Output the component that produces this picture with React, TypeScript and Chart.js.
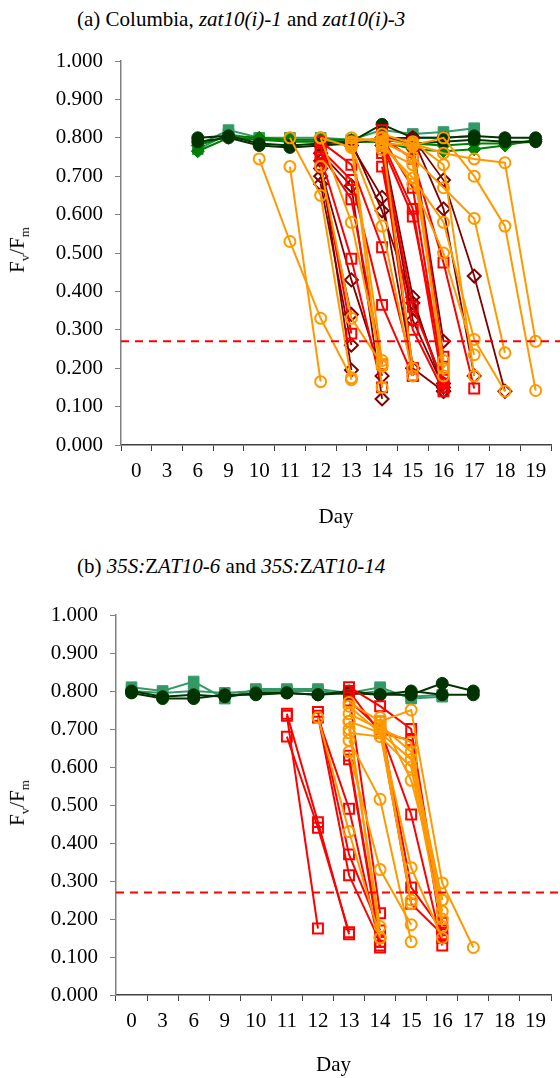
import React, { useEffect, useRef } from "react";
import { Chart, registerables } from "chart.js";

Chart.register(...registerables);

// ---------- data ----------
const days = ["0", "3", "6", "9", "10", "11", "12", "13", "14", "15", "16", "17", "18", "19"];
const threshold = 0.27;
const yMin = 0;
const yMax = 1;
const yStep = 0.1;

type Run = { start: string; v: number[] };

// Panel (a): Columbia, zat10(i)-1 and zat10(i)-3
const aGreenCircles: Run[] = [
  { start: "6", v: [0.8, 0.805, 0.785, 0.78, 0.785, 0.79, 0.835, 0.8, 0.8, 0.805, 0.8, 0.8] },
  { start: "6", v: [0.79, 0.8, 0.78, 0.775, 0.78, 0.785, 0.8, 0.785, 0.79, 0.795, 0.79, 0.79] },
];
const aGreenSquares: Run[] = [
  { start: "6", v: [0.78, 0.82, 0.8, 0.8, 0.8, 0.795, 0.82, 0.81, 0.815, 0.825] },
  { start: "6", v: [0.77, 0.81, 0.795, 0.795, 0.795, 0.79, 0.79, 0.8, 0.8, 0.805] },
];
const aGreenDiamonds: Run[] = [
  { start: "6", v: [0.765, 0.8, 0.795, 0.79, 0.79, 0.79, 0.79, 0.77, 0.765, 0.77, 0.78, 0.795] },
  { start: "6", v: [0.78, 0.805, 0.8, 0.795, 0.795, 0.795, 0.795, 0.785, 0.78, 0.785, 0.785, 0.79] },
];
const aOrange: Run[] = [
  { start: "10", v: [0.745, 0.53, 0.33, 0.175] },
  { start: "11", v: [0.725, 0.165] },
  { start: "11", v: [0.8, 0.65, 0.17] },
  { start: "12", v: [0.8, 0.58, 0.205] },
  { start: "12", v: [0.725, 0.33, 0.21] },
  { start: "12", v: [0.8, 0.775, 0.57, 0.18] },
  { start: "13", v: [0.79, 0.8, 0.2] },
  { start: "13", v: [0.8, 0.79, 0.75, 0.2] },
  { start: "13", v: [0.785, 0.22] },
  { start: "13", v: [0.78, 0.15] },
  { start: "14", v: [0.81, 0.785, 0.76, 0.745, 0.735, 0.27] },
  { start: "14", v: [0.8, 0.78, 0.8, 0.7, 0.57, 0.142] },
  { start: "14", v: [0.79, 0.75, 0.67, 0.59, 0.24] },
  { start: "14", v: [0.78, 0.695, 0.58, 0.275, 0.14] },
  { start: "14", v: [0.79, 0.68, 0.5, 0.235] },
  { start: "14", v: [0.77, 0.73, 0.22] },
  { start: "14", v: [0.785, 0.78, 0.18] },
  { start: "15", v: [0.79, 0.73, 0.18] },
];
const aRed: Run[] = [
  { start: "12", v: [0.79, 0.73, 0.515, 0.2] },
  { start: "12", v: [0.77, 0.69, 0.365, 0.18] },
  { start: "12", v: [0.76, 0.64, 0.21] },
  { start: "12", v: [0.75, 0.485, 0.15] },
  { start: "12", v: [0.73, 0.29] },
  { start: "14", v: [0.82, 0.18] },
  { start: "14", v: [0.725, 0.3, 0.14] },
  { start: "14", v: [0.8, 0.67, 0.17] },
  { start: "14", v: [0.79, 0.615, 0.15] },
  { start: "14", v: [0.78, 0.595, 0.2] },
  { start: "14", v: [0.8, 0.745, 0.475, 0.147] },
  { start: "14", v: [0.77, 0.36, 0.16] },
  { start: "15", v: [0.78, 0.23] },
  { start: "14", v: [0.76, 0.2] },
];
const aMaroon: Run[] = [
  { start: "12", v: [0.76, 0.675, 0.12] },
  { start: "12", v: [0.72, 0.43, 0.18] },
  { start: "12", v: [0.7, 0.34] },
  { start: "12", v: [0.68, 0.26] },
  { start: "12", v: [0.74, 0.195] },
  { start: "13", v: [0.78, 0.645, 0.2] },
  { start: "13", v: [0.79, 0.61, 0.37, 0.16] },
  { start: "14", v: [0.79, 0.385, 0.14] },
  { start: "14", v: [0.78, 0.325, 0.15] },
  { start: "14", v: [0.8, 0.8, 0.69, 0.44, 0.14] },
  { start: "15", v: [0.8, 0.615, 0.18] },
  { start: "15", v: [0.78, 0.27] },
  { start: "14", v: [0.79, 0.2, 0.14] },
];

// Panel (b): 35S:ZAT10-6 and 35S:ZAT10-14
const bGreenSquares: Run[] = [
  { start: "0", v: [0.81, 0.8, 0.825, 0.78, 0.805, 0.805, 0.805, 0.795, 0.81, 0.78, 0.785] },
  { start: "0", v: [0.8, 0.795, 0.8, 0.795, 0.8, 0.8, 0.8, 0.79, 0.8, 0.785, 0.79] },
];
const bGreenCircles: Run[] = [
  { start: "0", v: [0.8, 0.785, 0.79, 0.785, 0.795, 0.795, 0.79, 0.8, 0.79, 0.79, 0.82, 0.8] },
  { start: "0", v: [0.795, 0.78, 0.78, 0.79, 0.79, 0.795, 0.79, 0.795, 0.79, 0.8, 0.79, 0.79] },
];
const bRed: Run[] = [
  { start: "11", v: [0.735, 0.175] },
  { start: "11", v: [0.74, 0.455, 0.16] },
  { start: "11", v: [0.68, 0.44, 0.165] },
  { start: "12", v: [0.745, 0.37, 0.17] },
  { start: "12", v: [0.735, 0.315, 0.14] },
  { start: "12", v: [0.73, 0.49, 0.125] },
  { start: "13", v: [0.81, 0.76, 0.7, 0.19] },
  { start: "13", v: [0.8, 0.69, 0.67, 0.15] },
  { start: "13", v: [0.79, 0.215] },
  { start: "13", v: [0.63, 0.14] },
  { start: "13", v: [0.62, 0.13] },
  { start: "13", v: [0.775, 0.7, 0.475, 0.13] },
  { start: "14", v: [0.72, 0.283, 0.17] },
  { start: "14", v: [0.7, 0.24, 0.16] },
];
const bOrange: Run[] = [
  { start: "12", v: [0.73, 0.43, 0.15] },
  { start: "13", v: [0.77, 0.72, 0.75, 0.295, 0.125] },
  { start: "13", v: [0.74, 0.7, 0.665, 0.2] },
  { start: "13", v: [0.72, 0.69, 0.62, 0.22] },
  { start: "13", v: [0.69, 0.68, 0.6, 0.18] },
  { start: "13", v: [0.64, 0.33, 0.185] },
  { start: "13", v: [0.67, 0.515, 0.14] },
  { start: "14", v: [0.73, 0.565, 0.25] },
  { start: "14", v: [0.7, 0.335, 0.15] },
  { start: "13", v: [0.76, 0.69, 0.25] },
  { start: "13", v: [0.7, 0.18] },
  { start: "13", v: [0.72, 0.15] },
  { start: "14", v: [0.72, 0.24] },
  { start: "14", v: [0.71, 0.64, 0.25] },
];

// ---------- styles ----------
type Sty = { color: string; point: string; radius: number; filled: boolean; lw: number };
const ORANGE: Sty = { color: "#FF9900", point: "circle", radius: 5.5, filled: false, lw: 2 };
const RED: Sty = { color: "#FF0000", point: "rect", radius: 7, filled: false, lw: 2 };
const MAROON: Sty = { color: "#800000", point: "rectRot", radius: 6.5, filled: false, lw: 1.8 };
const GSQ: Sty = { color: "#339966", point: "rect", radius: 7.5, filled: true, lw: 2 };
const GDI: Sty = { color: "#008000", point: "rectRot", radius: 6.5, filled: true, lw: 2 };
const GCI: Sty = { color: "#003300", point: "circle", radius: 6, filled: true, lw: 2 };

const FONT = "'Liberation Serif', 'Times New Roman', serif";

function toSeries(run: Run): (number | null)[] {
  const out: (number | null)[] = days.map(() => null);
  const i0 = days.indexOf(run.start);
  run.v.forEach((val, k) => {
    out[i0 + k] = val;
  });
  return out;
}

function datasets(groups: [Run[], Sty][]) {
  const ds: any[] = [];
  groups.forEach(([runs, s]) => {
    runs.forEach((r) => {
      ds.push({
        data: toSeries(r),
        borderColor: s.color,
        borderWidth: s.lw,
        backgroundColor: s.filled ? s.color : "rgba(0,0,0,0)",
        pointStyle: s.point,
        pointRadius: s.radius,
        pointHoverRadius: s.radius,
        pointBorderWidth: s.filled ? 1 : 2,
        pointBorderColor: s.color,
        pointBackgroundColor: s.filled ? s.color : "rgba(0,0,0,0)",
        tension: 0,
        fill: false,
        spanGaps: false,
      });
    });
  });
  return ds;
}

const thresholdPlugin = {
  id: "threshold",
  afterDatasetsDraw(chart: any) {
    const ctx = chart.ctx;
    const y = chart.scales.y.getPixelForValue(threshold);
    const { left } = chart.chartArea;
    ctx.save();
    ctx.strokeStyle = "#FF0000";
    ctx.lineWidth = 2;
    ctx.setLineDash([8, 6]);
    ctx.beginPath();
    ctx.moveTo(left, y);
    ctx.lineTo(chart.width, y);
    ctx.stroke();
    ctx.restore();
  },
};

function makeConfig(groups: [Run[], Sty][], yW: number, xH: number, padRight: number) {
  return {
    type: "line",
    data: { labels: days, datasets: datasets(groups) },
    options: {
      animation: false,
      responsive: false,
      devicePixelRatio: 1,
      layout: { padding: { top: 61, left: 0, right: padRight, bottom: 0 } },
      plugins: { legend: { display: false }, tooltip: { enabled: false }, title: { display: false } },
      scales: {
        x: {
          type: "category",
          offset: true,
          grid: {
            display: true,
            drawOnChartArea: false,
            drawTicks: true,
            tickLength: 6,
            offset: true,
            color: "#404040",
            lineWidth: 1,
          },
          border: { display: true, color: "#404040", width: 1.5 },
          ticks: {
            color: "#000",
            font: { family: FONT, size: 21 },
            padding: 8,
            autoSkip: false,
            maxRotation: 0,
          },
          title: { display: true, text: "Day", color: "#000", font: { family: FONT, size: 21 }, padding: 0 },
          afterFit: (s: any) => {
            s.height = xH;
          },
        },
        y: {
          min: yMin,
          max: yMax,
          ticks: {
            stepSize: yStep,
            color: "#000",
            font: { family: FONT, size: 21 },
            padding: 12,
            callback: (v: any) => Number(v).toFixed(3),
          },
          grid: { drawOnChartArea: false, drawTicks: true, tickLength: 6, color: "#808080", lineWidth: 1 },
          border: { display: true, color: "#808080", width: 1.5 },
          afterFit: (s: any) => {
            s.width = yW;
          },
        },
      },
    },
    plugins: [thresholdPlugin],
  };
}

function Panel({ groups, top, height, yW, xH, padRight }: any) {
  const ref = useRef<HTMLCanvasElement>(null);
  useEffect(() => {
    const chart = new Chart(ref.current as HTMLCanvasElement, makeConfig(groups, yW, xH, padRight) as any);
    return () => chart.destroy();
  }, []);
  return (
    <canvas
      ref={ref}
      width={560}
      height={height}
      style={{ position: "absolute", left: 0, top, width: 560, height }}
    />
  );
}

const titleStyle: React.CSSProperties = {
  position: "absolute",
  left: 77,
  fontFamily: FONT,
  fontSize: 21,
  lineHeight: "22px",
  whiteSpace: "nowrap",
  color: "#000",
};

function YTitle({ cy }: { cy: number }) {
  return (
    <div
      style={{
        position: "absolute",
        left: 21,
        top: cy,
        transform: "translate(-50%, -50%) rotate(-90deg)",
        fontFamily: FONT,
        fontSize: 21,
        whiteSpace: "nowrap",
        lineHeight: "24px",
        color: "#000",
      }}
    >
      F<sub style={{ fontSize: 13 }}>v</sub>/F<sub style={{ fontSize: 13 }}>m</sub>
    </div>
  );
}

export default function App() {
  // later groups are drawn below earlier ones
  const groupsA: [Run[], Sty][] = [
    [aOrange, ORANGE],
    [aRed, RED],
    [aMaroon, MAROON],
    [aGreenCircles, GCI],
    [aGreenDiamonds, GDI],
    [aGreenSquares, GSQ],
  ];
  const groupsB: [Run[], Sty][] = [
    [bOrange, ORANGE],
    [bRed, RED],
    [bGreenCircles, GCI],
    [bGreenSquares, GSQ],
  ];
  return (
    <div style={{ position: "absolute", left: 0, top: 0, width: 560, height: 1078, overflow: "hidden", background: "#fff" }}>
      <div style={{ ...titleStyle, top: 8 }}>
        (a) Columbia, <i>zat10(i)-1</i> and <i>zat10(i)-3</i>
      </div>
      <Panel groups={groupsA} top={0} height={530} yW={121} xH={85} padRight={0} />
      <YTitle cy={250} />
      <div style={{ ...titleStyle, top: 555 }}>
        (b) <i>35S:</i>Z<i>AT10-6</i> and <i>35S:</i>Z<i>AT10-14</i>
      </div>
      <Panel groups={groupsB} top={554} height={524} yW={116} xH={83} padRight={3} />
      <YTitle cy={803} />
    </div>
  );
}
